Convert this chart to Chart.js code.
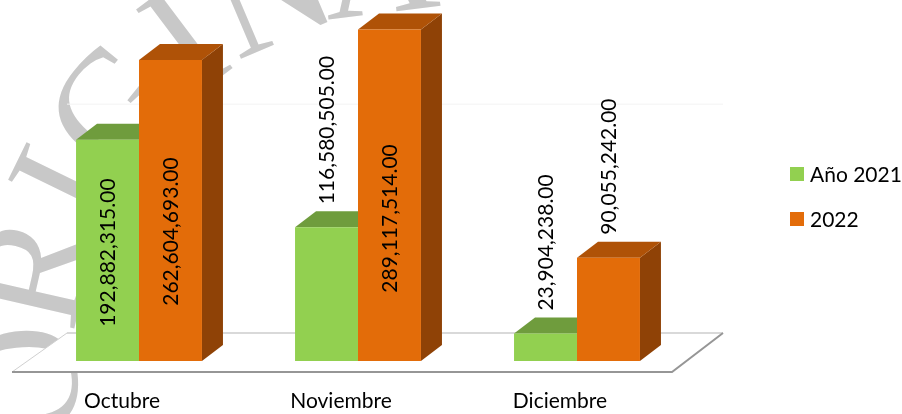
<!DOCTYPE html>
<html>
<head>
<meta charset="utf-8">
<script src="https://cdn.jsdelivr.net/npm/chart.js@4/dist/chart.umd.min.js"></script>
<style>
  html, body { margin: 0; padding: 0; background: #ffffff; }
  #wrap { width: 902px; height: 414px; position: relative; }
</style>
</head>
<body>
<div id="wrap"><canvas id="c" width="902" height="414"></canvas></div>
<script>
// ---- data ----
const categories = ['Octubre', 'Noviembre', 'Diciembre'];
const seriesNames = ['Año 2021', '2022'];
const values2021 = [192882315.00, 116580505.00, 23904238.00];
const values2022 = [262604693.00, 289117514.00, 90055242.00];
const yMax = 300000000;
const backGridValues = [200000000];
const watermarkText = 'ORIGINAL';

// ---- styles ----
const FONT = 'Lato, "Open Sans", "DejaVu Sans", sans-serif';
const palette = [
  { front: '#92D050', top: '#6F9C3D', side: '#5E8A30', labelCenter: 0.49 },
  { front: '#E36C09', top: '#AF5207', side: '#8F4206', labelCenter: 0.43 }
];
const DEPTH_X = 21, DEPTH_Y = 16;

function fmt(v) {
  return v.toLocaleString('en-US', { minimumFractionDigits: 2, maximumFractionDigits: 2 });
}

const watermarkPlugin = {
  id: 'watermark',
  beforeDraw(chart) {
    const { ctx } = chart;
    ctx.save();
    ctx.fillStyle = '#ffffff';
    ctx.fillRect(0, 0, chart.width, chart.height);
    ctx.fillStyle = '#c8c8c8';
    ctx.font = '160px "Liberation Serif", "DejaVu Serif", serif';
    ctx.textAlign = 'center';
    ctx.textBaseline = 'alphabetic';
    const cx = 427, cy = 361;
    const angles = [177, 193, 206, 219, 233, 247, 263, 272];
    const radii = [404, 404, 404, 404, 404, 404, 404, 480];
    for (let i = 0; i < watermarkText.length; i++) {
      const a = angles[i] * Math.PI / 180;
      const x = cx + radii[i] * Math.cos(a), y = cy + radii[i] * Math.sin(a);
      ctx.save();
      ctx.translate(x, y);
      ctx.rotate(a + Math.PI / 2);
      ctx.fillText(watermarkText[i], 0, 53);
      ctx.restore();
    }
    ctx.restore();
  }
};

const floorPlugin = {
  id: 'floor3d',
  beforeDatasetsDraw(chart) {
    const { ctx, chartArea: ca, scales } = chart;
    const base = scales.y.getPixelForValue(0);
    const fl = { x: ca.left - 17.5, y: base + 11 };
    const fr = { x: ca.right - 14.5, y: base + 11 };
    const br = { x: ca.right + 36.5, y: base - 28 };
    const bl = { x: ca.left + 37.5, y: base - 28 };
    ctx.save();
    ctx.strokeStyle = '#f3f3f3';
    ctx.lineWidth = 1;
    backGridValues.forEach(v => {
      const gy = scales.y.getPixelForValue(v) - 28 + 0.5;
      ctx.beginPath(); ctx.moveTo(bl.x, gy); ctx.lineTo(br.x, gy); ctx.stroke();
    });
    ctx.fillStyle = '#ffffff';
    ctx.beginPath();
    ctx.moveTo(fl.x, fl.y); ctx.lineTo(fr.x, fr.y); ctx.lineTo(br.x, br.y); ctx.lineTo(bl.x, bl.y); ctx.closePath();
    ctx.fill();
    ctx.lineWidth = 2;
    ctx.strokeStyle = '#d9d9d9';
    ctx.beginPath(); ctx.moveTo(bl.x, bl.y); ctx.lineTo(br.x, br.y); ctx.stroke();
    ctx.lineWidth = 1;
    ctx.strokeStyle = '#d0d0d0';
    ctx.beginPath(); ctx.moveTo(fl.x, fl.y); ctx.lineTo(bl.x, bl.y); ctx.stroke();
    ctx.lineWidth = 2;
    ctx.strokeStyle = '#969696';
    ctx.beginPath(); ctx.moveTo(fl.x, fl.y); ctx.lineTo(fr.x, fr.y); ctx.lineTo(br.x, br.y); ctx.stroke();

    chart.data.datasets.forEach((ds, di) => {
      const meta = chart.getDatasetMeta(di);
      const pal = palette[di];
      meta.data.forEach(bar => {
        const p = bar.getProps(['x', 'y', 'base', 'width'], true);
        const l = p.x - p.width / 2, r = p.x + p.width / 2;
        ctx.fillStyle = pal.side;
        ctx.beginPath();
        ctx.moveTo(r, p.y); ctx.lineTo(r + DEPTH_X, p.y - DEPTH_Y);
        ctx.lineTo(r + DEPTH_X, p.base - DEPTH_Y); ctx.lineTo(r, p.base); ctx.closePath();
        ctx.fill();
        ctx.fillStyle = pal.top;
        ctx.beginPath();
        ctx.moveTo(l, p.y); ctx.lineTo(l + DEPTH_X, p.y - DEPTH_Y);
        ctx.lineTo(r + DEPTH_X, p.y - DEPTH_Y); ctx.lineTo(r, p.y); ctx.closePath();
        ctx.fill();
      });
    });
    ctx.restore();
  }
};

const labelPlugin = {
  id: 'labels3d',
  afterDatasetsDraw(chart) {
    const { ctx } = chart;
    ctx.save();
    ctx.font = '21px ' + FONT;
    ctx.fillStyle = '#000000';
    ctx.textBaseline = 'middle';
    chart.data.datasets.forEach((ds, di) => {
      const meta = chart.getDatasetMeta(di);
      const pal = palette[di];
      meta.data.forEach((bar, i) => {
        const p = bar.getProps(['x', 'y', 'base', 'width'], true);
        const text = fmt(ds.data[i]);
        const w = ctx.measureText(text).width;
        const h = p.base - p.y;
        ctx.save();
        if (w + 20 < h) {
          const cy = p.base - h * pal.labelCenter;
          ctx.translate(p.x, cy);
          ctx.rotate(-Math.PI / 2);
          ctx.textAlign = 'center';
          ctx.fillText(text, 0, 1);
        } else {
          ctx.translate(p.x, p.y - DEPTH_Y - 7);
          ctx.rotate(-Math.PI / 2);
          ctx.textAlign = 'left';
          ctx.fillText(text, 0, 1);
        }
        ctx.restore();
      });
    });
    const lx = 790, ly = [174, 219];
    ctx.textAlign = 'left';
    chart.data.datasets.forEach((ds, di) => {
      ctx.fillStyle = palette[di].front;
      ctx.fillRect(lx, ly[di] - 7, 14, 14);
      ctx.fillStyle = '#000000';
      ctx.fillText(ds.label, lx + 20, ly[di] + 1);
    });
    ctx.restore();
  }
};

new Chart(document.getElementById('c'), {
  type: 'bar',
  data: {
    labels: categories,
    datasets: [
      { label: seriesNames[0], data: values2021, backgroundColor: palette[0].front, borderWidth: 0 },
      { label: seriesNames[1], data: values2022, backgroundColor: palette[1].front, borderWidth: 0 }
    ]
  },
  options: {
    responsive: false,
    animation: false,
    devicePixelRatio: 1,
    layout: { padding: { left: 29.5, right: 215.5, top: 17, bottom: 0 } },
    datasets: { bar: { barPercentage: 1.0, categoryPercentage: 0.575 } },
    plugins: { legend: { display: false }, tooltip: { enabled: false } },
    scales: {
      x: {
        grid: { display: false, drawTicks: false },
        border: { display: false },
        afterFit(scale) { scale.height = 53; },
        ticks: { padding: 28, labelOffset: -17, maxRotation: 0, color: '#000000', font: { family: FONT, size: 21 } }
      },
      y: { display: false, min: 0, max: yMax }
    }
  },
  plugins: [watermarkPlugin, floorPlugin, labelPlugin]
});
</script>
</body>
</html>
